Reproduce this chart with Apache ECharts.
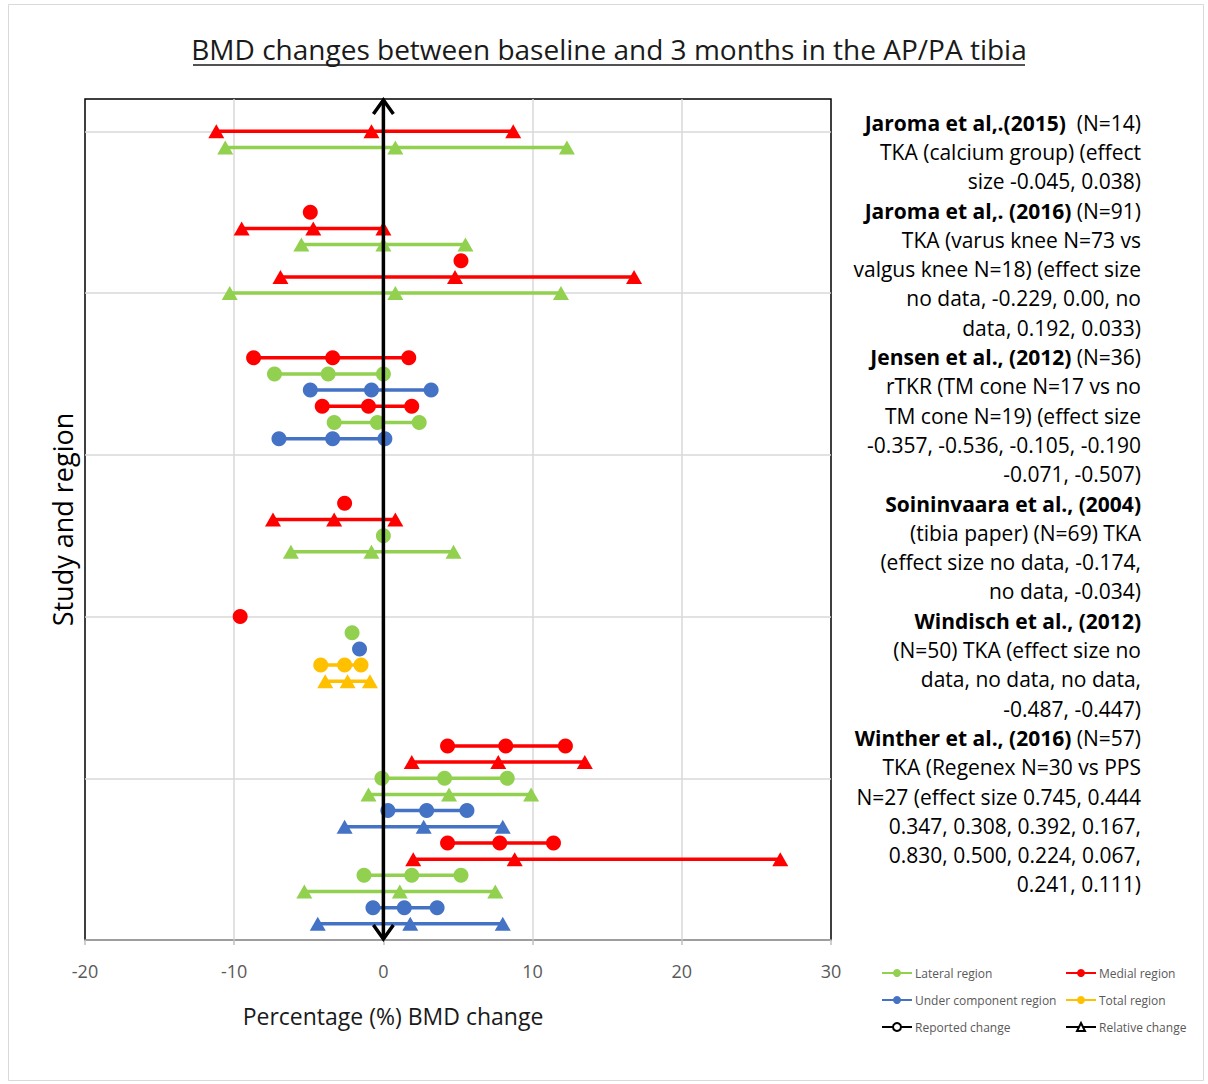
<!DOCTYPE html>
<html><head><meta charset="utf-8">
<script src="https://cdn.jsdelivr.net/npm/echarts@6/dist/echarts.min.js"></script>
<style>html,body{margin:0;padding:0;background:#fff}#c{width:1208px;height:1084px}</style>
</head><body><div id="c"></div>
<script>
// ---------- DATA ----------
const xTicks = [-20, -10, 0, 10, 20, 30];
const rowY = [50,49,45,44,43,42,41,40, 36,35,34,33,32,31, 27,26,25,24, 20,19,18,17,16, 12,11,10,9,8,7,6,5,4,3,2,1];
const rowRegion = [
  'Medial','Lateral','Medial','Medial','Lateral','Medial','Medial','Lateral',
  'Medial','Lateral','Under','Medial','Lateral','Under',
  'Medial','Medial','Lateral','Lateral',
  'Medial','Lateral','Under','Total','Total',
  'Medial','Medial','Lateral','Lateral','Under','Under','Medial','Medial','Lateral','Lateral','Under','Under'
];
const rowKind = [
  'Relative','Relative','Reported','Relative','Relative','Reported','Relative','Relative',
  'Reported','Reported','Reported','Reported','Reported','Reported',
  'Reported','Relative','Reported','Relative',
  'Reported','Reported','Reported','Reported','Relative',
  'Reported','Relative','Reported','Relative','Reported','Relative','Reported','Relative','Reported','Relative','Reported','Relative'
];
const rowValues = [
  [-11.2,-0.8,8.7], [-10.6,0.8,12.3], [-4.9], [-9.5,-4.7,0], [-5.5,0,5.5], [5.2], [-6.9,4.8,16.8], [-10.3,0.8,11.9],
  [-8.7,-3.4,1.7], [-7.3,-3.7,0], [-4.9,-0.8,3.2], [-4.1,-1.0,1.9], [-3.3,-0.4,2.4], [-7.0,-3.4,0.1],
  [-2.6], [-7.4,-3.3,0.8], [0], [-6.2,-0.8,4.7],
  [-9.6], [-2.1], [-1.6], [-4.2,-2.6,-1.5], [-3.9,-2.4,-0.9],
  [4.3,8.2,12.2], [1.9,7.7,13.5], [-0.1,4.1,8.3], [-1.0,4.4,9.9], [0.3,2.9,5.6], [-2.6,2.7,8.0],
  [4.3,7.8,11.4], [2.0,8.8,26.6], [-1.3,1.9,5.2], [-5.3,1.1,7.5], [-0.7,1.4,3.6], [-4.4,1.8,8.0]
];
const arrowSpan = [0, 0, 52]; // x, from y, to y
const regionNames = { Lateral: 'Lateral region', Medial: 'Medial region', Under: 'Under component region', Total: 'Total region' };
const kindNames = { Reported: 'Reported change', Relative: 'Relative change' };
const studyLines = [
  '{b|Jaroma et al,.(2015)}{n|  (N=14)}',
  '{n|TKA (calcium group) (effect}',
  '{n|size -0.045, 0.038)}',
  '{b|Jaroma et al,. (2016)}{n| (N=91)}',
  '{n|TKA (varus knee N=73 vs}',
  '{n|valgus knee N=18) (effect size}',
  '{n|no data, -0.229, 0.00, no}',
  '{n|data, 0.192, 0.033)}',
  '{b|Jensen et al., (2012)}{n| (N=36)}',
  '{n|rTKR (TM cone N=17 vs no}',
  '{n|TM cone N=19) (effect size}',
  '{n|-0.357, -0.536, -0.105, -0.190}',
  '{n|-0.071, -0.507)}',
  '{b|Soininvaara et al., (2004)}',
  '{n|(tibia paper) (N=69) TKA}',
  '{n|(effect size no data, -0.174,}',
  '{n|no data, -0.034)}',
  '{b|Windisch et al., (2012)}',
  '{n|(N=50) TKA (effect size no}',
  '{n|data, no data, no data,}',
  '{n|-0.487, -0.447)}',
  '{b|Winther et al., (2016)}{n| (N=57)}',
  '{n|TKA (Regenex N=30 vs PPS}',
  '{n|N=27 (effect size 0.745, 0.444}',
  '{n|0.347, 0.308, 0.392, 0.167,}',
  '{n|0.830, 0.500, 0.224, 0.067,}',
  '{n|0.241, 0.111)}'
];
const titleText = 'BMD changes between baseline and 3 months in the AP/PA tibia';

// ---------- STYLE ----------
const colors = { Lateral: '#92D050', Medial: '#FF0000', Under: '#4472C4', Total: '#FFC000' };
const FONT = '"Open Sans", sans-serif';

const series = [];
['Reported', 'Relative'].forEach(kind => {
  rowY.forEach((y, i) => {
    if (rowKind[i] !== kind) return;
    const c = colors[rowRegion[i]];
    series.push({
      type: 'line', name: regionNames[rowRegion[i]],
      data: rowValues[i].map(v => [v, y]),
      symbol: kind === 'Reported' ? 'circle' : 'triangle',
      symbolSize: kind === 'Reported' ? 15 : [16, 14],
      showSymbol: true, silent: true, animation: false, z: 3,
      lineStyle: { width: 3.5, color: c }, itemStyle: { color: c }
    });
  });
});
series.push({ type: 'line', name: kindNames.Reported, data: [], symbol: 'emptyCircle', itemStyle: { color: '#000' }, lineStyle: { color: '#000' } });
series.push({ type: 'line', name: kindNames.Relative, data: [], symbol: 'emptyTriangle', itemStyle: { color: '#000' }, lineStyle: { color: '#000' } });
series.push({
  type: 'custom', z: 10, silent: true, animation: false,
  data: [arrowSpan], encode: { x: 0, y: [1, 2] },
  renderItem(params, api) {
    const bot = api.coord([api.value(0), api.value(1)]);
    const top = api.coord([api.value(0), api.value(2)]);
    const hw = 10, hh = 15, st = { stroke: '#000', lineWidth: 3.5, fill: null };
    return { type: 'group', children: [
      { type: 'line', shape: { x1: top[0], y1: top[1] + 1, x2: bot[0], y2: bot[1] - 1 }, style: st },
      { type: 'polyline', shape: { points: [[top[0] - hw, top[1] + hh], [top[0], top[1] + 1], [top[0] + hw, top[1] + hh]] }, style: st },
      { type: 'polyline', shape: { points: [[bot[0] - hw, bot[1] - hh], [bot[0], bot[1] - 1], [bot[0] + hw, bot[1] - hh]] }, style: st }
    ]};
  }
});

const legendCommon = {
  orient: 'vertical', top: 961, itemWidth: 30, itemHeight: 10, itemGap: 13,
  selectedMode: false, lineStyle: { width: 2 },
  textStyle: { fontFamily: FONT, fontSize: 12, color: '#595959', lineHeight: 14, padding: [0, 0, 0, -2] }
};

const chart = echarts.init(document.getElementById('c'), null, { renderer: 'svg' });
chart.setOption({
  backgroundColor: '#fff',
  animation: false,
  grid: { left: 85, right: 377, top: 99, bottom: 144, show: true, borderColor: '#000', borderWidth: 1.5, backgroundColor: 'transparent' },
  xAxis: {
    type: 'value', min: xTicks[0], max: xTicks[xTicks.length - 1], interval: 10,
    name: 'Percentage (%) BMD change', nameLocation: 'middle', nameGap: 64,
    nameTextStyle: { fontFamily: FONT, fontSize: 23, color: '#1a1a1a', padding: [0, 130, 0, 0] },
    axisLine: { show: true, onZero: false, lineStyle: { color: '#bfbfbf', width: 1.5 } },
    axisTick: { show: true, length: 5, lineStyle: { color: '#bfbfbf', width: 1.5 } },
    axisLabel: { fontFamily: FONT, fontSize: 18, color: '#595959', margin: 22 },
    splitLine: { show: true, showMinLine: false, showMaxLine: false, lineStyle: { color: '#d9d9d9', width: 1.5 } }
  },
  yAxis: {
    type: 'value', min: 0, max: 52, interval: 10,
    name: 'Study and region', nameLocation: 'middle', nameGap: 9,
    nameTextStyle: { fontFamily: FONT, fontSize: 27, color: '#000' },
    axisLine: { show: true, lineStyle: { color: '#000', width: 1.5 } },
    axisTick: { show: false }, axisLabel: { show: false },
    splitLine: { show: true, showMinLine: false, showMaxLine: false, lineStyle: { color: '#d9d9d9', width: 1.5 } }
  },
  legend: [
    Object.assign({}, legendCommon, { left: 876, data: [regionNames.Lateral, regionNames.Under, kindNames.Reported] }),
    Object.assign({}, legendCommon, { left: 1060, data: [regionNames.Medial, regionNames.Total, kindNames.Relative] })
  ],
  graphic: [
    { type: 'rect', shape: { x: 8.5, y: 4.5, width: 1195, height: 1076 }, style: { fill: null, stroke: '#d9d9d9', lineWidth: 1 }, z: -10, silent: true },
    { type: 'text', x: 609, y: 49, style: { text: titleText, font: '28px ' + FONT, fill: '#1a1a1a', align: 'center', verticalAlign: 'middle' }, silent: true },
    { type: 'line', shape: { x1: 193, y1: 65, x2: 1025, y2: 65 }, style: { stroke: '#1a1a1a', lineWidth: 1.5 }, silent: true },
    { type: 'text', x: 1141, y: 108, silent: true,
      style: { text: studyLines.join('\n'), align: 'right', verticalAlign: 'top',
        rich: {
          b: { fontFamily: FONT, fontSize: 21, fontWeight: 'bold', fill: '#000', lineHeight: 29.3 },
          n: { fontFamily: FONT, fontSize: 21, fill: '#000', lineHeight: 29.3 }
        } } }
  ],
  series: series
});
</script></body></html>
